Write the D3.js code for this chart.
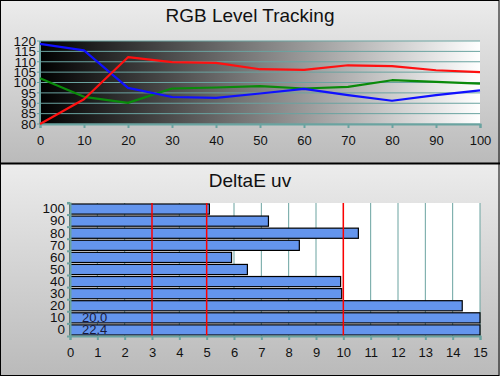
<!DOCTYPE html>
<html>
<head>
<meta charset="utf-8">
<script src="https://cdn.jsdelivr.net/npm/d3@7"></script>
<style>
body { margin: 0; background: #fff; }
svg { display: block; font-family: "Liberation Sans", Arial, sans-serif; }
</style>
</head>
<body>
<script>
// data
var levels = [0, 10, 20, 30, 40, 50, 60, 70, 80, 90, 100];
var redVals = [80, 91.9, 112.2, 109.8, 109.5, 106.4, 106.1, 108.3, 107.9, 105.9, 105];
var greenVals = [102, 93.1, 90.2, 97.1, 97.6, 98.3, 97.1, 97.9, 101.1, 100.3, 99.5];
var blueVals = [118.6, 115.5, 97.4, 93, 92.6, 94.7, 96.9, 93.9, 91.2, 93.9, 96.2];
var yTicksTop = [80, 85, 90, 95, 100, 105, 110, 115, 120];

var deltaCats = [0, 10, 20, 30, 40, 50, 60, 70, 80, 90, 100];
var deltaVals = [22.4, 20.0, 14.35, 9.94, 9.9, 6.49, 5.91, 8.39, 10.55, 7.26, 5.1];
var refLines = [3, 5, 10];
var xTicksBottom = d3.range(0, 16);

var W = 500, H = 376;
var grid = "#6aa3a0";
var FONT = "Liberation Sans, Arial, sans-serif";

var svg = d3.select("body").append("svg").attr("width", W).attr("height", H);
var defs = svg.append("defs");

// panel backgrounds
var pg = defs.append("linearGradient").attr("id", "panel").attr("x1", 0).attr("y1", 0).attr("x2", 0).attr("y2", 1);
pg.append("stop").attr("offset", "0%").attr("stop-color", "#ececec");
pg.append("stop").attr("offset", "100%").attr("stop-color", "#bababa");

var plotg = defs.append("linearGradient").attr("id", "plotbg").attr("x1", 0).attr("y1", 0).attr("x2", 1).attr("y2", 0);
plotg.append("stop").attr("offset", "0%").attr("stop-color", "#000");
plotg.append("stop").attr("offset", "100%").attr("stop-color", "#fff");

svg.append("rect").attr("x", 0).attr("y", 0).attr("width", W).attr("height", 164).attr("fill", "url(#panel)");
svg.append("rect").attr("x", 0).attr("y", 164).attr("width", W).attr("height", 212).attr("fill", "url(#panel)");

// ---- top chart: RGB level tracking
var mTop = {left: 40, right: 480, top: 41, bottom: 124};
var x1 = d3.scaleLinear().domain([0, 100]).range([mTop.left, mTop.right]);
var y1 = d3.scaleLinear().domain([80, 120]).range([mTop.bottom, mTop.top]);

svg.append("text").attr("x", 250).attr("y", 22).attr("text-anchor", "middle")
    .attr("font-size", 19).attr("fill", "#111").text("RGB Level Tracking");

svg.append("rect").attr("x", mTop.left).attr("y", mTop.top)
    .attr("width", mTop.right - mTop.left).attr("height", mTop.bottom - mTop.top)
    .attr("fill", "url(#plotbg)");

svg.append("g").selectAll("line").data(yTicksTop).enter().append("line")
    .attr("x1", mTop.left - 3).attr("x2", mTop.right)
    .attr("y1", function (d) { return y1(d); }).attr("y2", function (d) { return y1(d); })
    .attr("stroke", grid).attr("stroke-width", 1);
svg.append("line").attr("x1", mTop.left).attr("x2", mTop.left).attr("y1", mTop.top).attr("y2", mTop.bottom)
    .attr("stroke", grid).attr("stroke-width", 2);

var yAxis1 = svg.append("g").attr("transform", "translate(" + (mTop.left - 3) + ",0)")
    .call(d3.axisLeft(y1).tickValues(yTicksTop).tickSize(0).tickPadding(1));
yAxis1.select(".domain").remove();
yAxis1.selectAll("text").attr("font-size", 13.5).attr("fill", "#111").attr("font-family", FONT);

var xAxis1 = svg.append("g").attr("transform", "translate(0," + mTop.bottom + ")")
    .call(d3.axisBottom(x1).tickValues(levels).tickSize(4).tickPadding(8));
xAxis1.select(".domain").attr("stroke", grid).attr("stroke-width", 2);
xAxis1.selectAll(".tick line").attr("stroke", grid).attr("stroke-width", 2);
xAxis1.selectAll("text").attr("font-size", 13).attr("fill", "#111").attr("font-family", FONT);

var line = d3.line()
    .x(function (d, i) { return x1(levels[i]); })
    .y(function (d) { return y1(d); });

[[greenVals, "#0a8a0a"], [blueVals, "#1010ff"], [redVals, "#ff1010"]].forEach(function (s) {
    svg.append("path").attr("d", line(s[0])).attr("fill", "none")
        .attr("stroke", s[1]).attr("stroke-width", 2.2).attr("stroke-linejoin", "round");
});

// ---- bottom chart: DeltaE uv
var mBot = {left: 70, right: 480, top: 203, bottom: 336};
var x2 = d3.scaleLinear().domain([0, 15]).range([mBot.left, mBot.right]);
var y2 = d3.scaleBand().domain(deltaCats.slice().reverse()).range([mBot.top, mBot.bottom]).paddingInner(0.16).paddingOuter(0.08);

svg.append("text").attr("x", 250).attr("y", 187).attr("text-anchor", "middle")
    .attr("font-size", 19).attr("fill", "#111").text("DeltaE uv");

svg.append("rect").attr("x", mBot.left).attr("y", mBot.top)
    .attr("width", mBot.right - mBot.left).attr("height", mBot.bottom - mBot.top).attr("fill", "#fff");

svg.append("g").selectAll("line").data(xTicksBottom.slice(1)).enter().append("line")
    .attr("x1", function (d) { return x2(d); }).attr("x2", function (d) { return x2(d); })
    .attr("y1", mBot.top).attr("y2", mBot.bottom)
    .attr("stroke", grid).attr("stroke-width", 1);

svg.append("g").selectAll("rect").data(deltaVals).enter().append("rect")
    .attr("x", x2(0))
    .attr("y", function (d, i) { return y2(deltaCats[i]); })
    .attr("width", function (d) { return x2(Math.min(d, 15)) - x2(0); })
    .attr("height", y2.bandwidth())
    .attr("fill", "#6495ed").attr("stroke", "#000").attr("stroke-width", 1.2);

svg.append("g").selectAll("text").data(deltaCats).enter()
    .filter(function (c, i) { return deltaVals[i] > 15; })
    .append("text")
    .attr("x", x2(0) + 12)
    .attr("y", function (c) { return y2(c) + y2.bandwidth() - 1; })
    .attr("font-size", 13).attr("fill", "#1a1a3a").attr("font-family", FONT)
    .text(function (c) { return deltaVals[deltaCats.indexOf(c)].toFixed(1); });

svg.append("g").selectAll("line").data(refLines).enter().append("line")
    .attr("x1", function (d) { return x2(d); }).attr("x2", function (d) { return x2(d); })
    .attr("y1", mBot.top).attr("y2", mBot.bottom)
    .attr("stroke", "#ff0000").attr("stroke-width", 1.5);

var yAxis2 = svg.append("g").attr("transform", "translate(" + mBot.left + ",0)")
    .call(d3.axisLeft(y2).tickSize(3).tickPadding(2));
yAxis2.select(".domain").attr("stroke", grid).attr("stroke-width", 2);
yAxis2.selectAll(".tick line").attr("stroke", grid).attr("stroke-width", 2)
    .attr("transform", "translate(0," + (-y2.bandwidth() / 2 - 1) + ")");
yAxis2.selectAll("text").attr("font-size", 13.5).attr("fill", "#111").attr("font-family", FONT);

var xAxis2 = svg.append("g").attr("transform", "translate(0," + mBot.bottom + ")")
    .call(d3.axisBottom(x2).tickValues(xTicksBottom).tickSize(4).tickPadding(8));
xAxis2.select(".domain").attr("stroke", grid).attr("stroke-width", 2);
xAxis2.selectAll(".tick line").attr("stroke", grid).attr("stroke-width", 2);
xAxis2.selectAll("text").attr("font-size", 13).attr("fill", "#111").attr("font-family", FONT);

// frame
svg.append("rect").attr("x", 0.5).attr("y", 0.5).attr("width", W - 1.5).attr("height", H - 1)
    .attr("fill", "none").attr("stroke", "#000").attr("stroke-width", 1);
svg.append("line").attr("x1", 0).attr("x2", W).attr("y1", 163.5).attr("y2", 163.5)
    .attr("stroke", "#000").attr("stroke-width", 2);
</script>
</body>
</html>
